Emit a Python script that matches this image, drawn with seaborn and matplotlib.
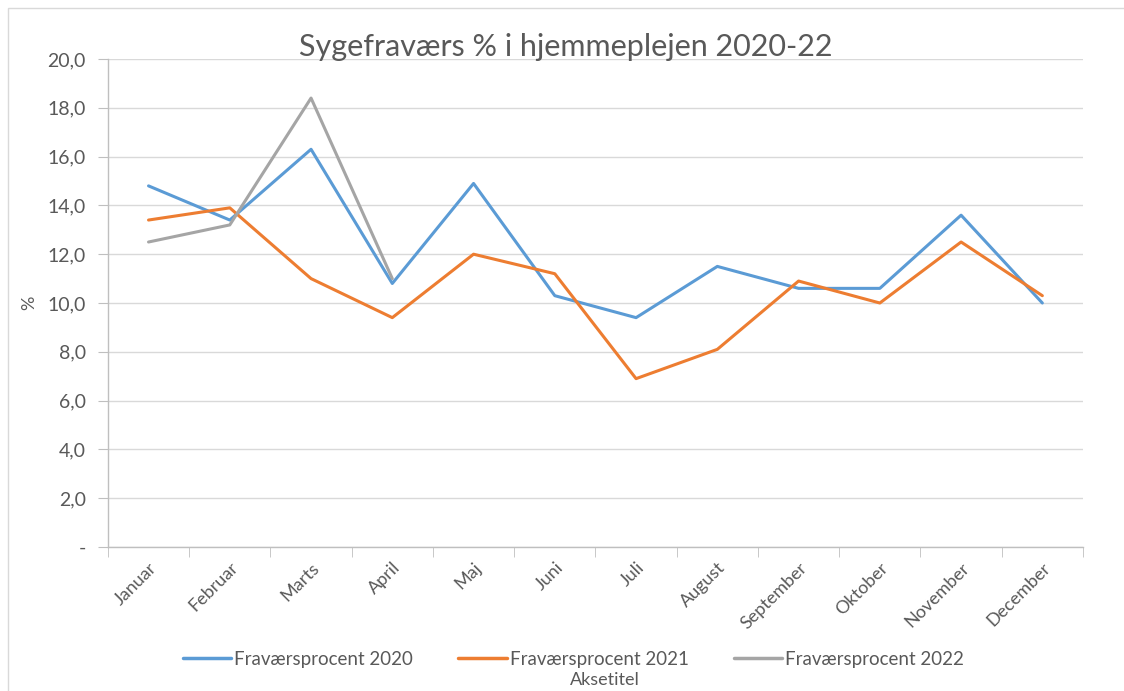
import pandas as pd
import matplotlib.pyplot as plt
import seaborn as sns
from matplotlib.ticker import FuncFormatter, FixedLocator
from matplotlib.patches import Rectangle

# data
maaneder = ['Januar', 'Februar', 'Marts', 'April', 'Maj', 'Juni', 'Juli',
            'August', 'September', 'Oktober', 'November', 'December']
fravaer_2020 = [14.8, 13.4, 16.3, 10.8, 14.9, 10.3, 9.4, 11.5, 10.6, 10.6, 13.6, 10.0]
fravaer_2021 = [13.4, 13.9, 11.0, 9.4, 12.0, 11.2, 6.9, 8.1, 10.9, 10.0, 12.5, 10.3]
fravaer_2022 = [12.5, 13.2, 18.4, 11.0]
serier = ['Fraværsprocent 2020', 'Fraværsprocent 2021', 'Fraværsprocent 2022']
farver = ['#5B9BD5', '#ED7D31', '#A5A5A5']

rows = []
for navn, vals in zip(serier, [fravaer_2020, fravaer_2021, fravaer_2022]):
    for i, v in enumerate(vals):
        rows.append({'nr': i, 'Procent': v, 'Serie': navn})
df = pd.DataFrame(rows)

sns.set_style('white')
plt.rcParams['font.family'] = ['Lato', 'DejaVu Sans']
tekst = '#595959'

fig = plt.figure(figsize=(11.24, 6.91), dpi=100)
ax = fig.add_axes([0.096, 0.2084, 0.8675, 0.7062])

sns.lineplot(data=df, x='nr', y='Procent', hue='Serie', palette=farver,
             linewidth=2.2, ax=ax, legend=False)

ax.set_xlim(-0.5, 11.5)
ax.set_ylim(0, 20)
ax.set_yticks(range(0, 21, 2))
ax.yaxis.set_major_formatter(FuncFormatter(
    lambda v, p: '-' if v == 0 else f'{v:.1f}'.replace('.', ',')))
ax.grid(axis='y', color='#D9D9D9', linewidth=1)
ax.set_axisbelow(True)

ax.set_xticks(range(12))
ax.set_xticklabels(maaneder, rotation=45, ha='right', rotation_mode='anchor',
                   fontsize=13, color=tekst)
ax.xaxis.set_minor_locator(FixedLocator([i - 0.5 for i in range(13)]))
ax.tick_params(axis='x', which='major', length=0, pad=9)
ax.tick_params(axis='x', which='minor', length=7, color='#BFBFBF', direction='out', bottom=True)
ax.tick_params(axis='y', length=7, color='#BFBFBF', direction='out', left=True,
               labelsize=14, labelcolor=tekst, pad=9)

for s in ['top', 'right']:
    ax.spines[s].set_visible(False)
for s in ['left', 'bottom']:
    ax.spines[s].set_color('#BFBFBF')
    ax.spines[s].set_linewidth(1)

ax.set_xlabel('')
ax.set_ylabel('%', fontsize=13, color=tekst, labelpad=2)
ax.yaxis.set_label_coords(-0.072, 0.5)

fig.text(0.503, 0.932, 'Sygefraværs % i hjemmeplejen 2020-22', ha='center', va='center',
         fontsize=22, color=tekst)

handles = [plt.Line2D([], [], color=c, linewidth=2.5) for c in farver]
fig.legend(handles, serier, loc='center', bbox_to_anchor=(0.51, 0.046), ncol=3,
           frameon=False, fontsize=13.5, handlelength=2.6, columnspacing=2.4,
           handletextpad=0.15, labelcolor=tekst)
fig.text(0.538, 0.016, 'Aksetitel', ha='center', va='center', fontsize=13, color=tekst)

fig.patches.append(Rectangle((0.007, -0.01), 1.1, 0.998, transform=fig.transFigure,
                             fill=False, edgecolor='#D9D9D9', linewidth=1))

fig.savefig('out.png', dpi=100)
